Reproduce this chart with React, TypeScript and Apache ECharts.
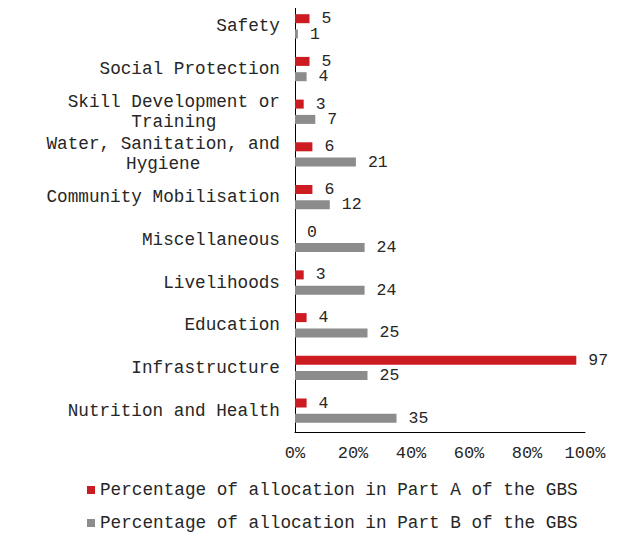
import React, { useEffect, useRef } from "react";
import * as echarts from "echarts";

const categories = [
  "Nutrition and Health",
  "Infrastructure",
  "Education",
  "Livelihoods",
  "Miscellaneous",
  "Community Mobilisation",
  "Water, Sanitation, and\nHygiene",
  "Skill Development or\nTraining",
  "Social Protection",
  "Safety",
];
const partA = [4, 97, 4, 3, 0, 6, 6, 3, 5, 5];
const partB = [35, 25, 25, 24, 24, 12, 21, 7, 4, 1];
const seriesNames = [
  "Percentage of allocation in Part A of the GBS",
  "Percentage of allocation in Part B of the GBS",
];
const xTicks = [0, 20, 40, 60, 80, 100];

const FONT = "'Liberation Mono', 'Courier New', monospace";
const FS = 17.7;
const CW = FS * 0.6;
const TXT = "#262626";

export default function App() {
  const ref = useRef<HTMLDivElement>(null);
  useEffect(() => {
    if (!ref.current) return;
    const chart = echarts.init(ref.current, undefined, { renderer: "svg" });
    const rich: Record<string, any> = {};
    categories.forEach((c) => {
      const n = Math.max(...c.split("\n").map((l) => l.length));
      rich["w" + n] = {
        width: n * CW,
        align: "center",
        fontFamily: FONT,
        fontSize: FS,
        color: TXT,
        lineHeight: 20,
      };
    });
    const valueLabel = {
      show: true,
      position: "right",
      distance: 12,
      fontFamily: FONT,
      fontSize: 16.5,
      lineHeight: 13,
      color: TXT,
    };
    chart.setOption({
      animation: false,
      grid: { left: 295, right: 40, top: 5, bottom: 112, containLabel: false },
      xAxis: {
        type: "value",
        min: 0,
        max: 100,
        interval: 20,
        axisLine: { show: true, lineStyle: { color: "#000", width: 1 } },
        axisTick: { show: false },
        splitLine: { show: false },
        axisLabel: {
          margin: 13,
          fontFamily: FONT,
          fontSize: 17,
          color: TXT,
          formatter: (v: number) => (xTicks.includes(v) ? v + "%" : ""),
        },
      },
      yAxis: {
        type: "category",
        data: categories,
        axisLine: { show: true, lineStyle: { color: "#000", width: 1 } },
        axisTick: { show: false },
        axisLabel: {
          margin: 15,
          fontFamily: FONT,
          fontSize: FS,
          color: TXT,
          lineHeight: 20,
          formatter: (v: string) => {
            const lines = v.split("\n");
            const n = Math.max(...lines.map((l) => l.length));
            return lines.map((l) => `{w${n}|${l}}`).join("\n");
          },
          rich,
        },
      },
      legend: {
        orient: "vertical",
        left: 87,
        top: 481,
        padding: 0,
        itemWidth: 8,
        itemHeight: 8,
        itemGap: 15,
        icon: "rect",
        textStyle: { fontFamily: FONT, fontSize: FS, color: TXT },
        data: seriesNames,
      },
      series: [
        {
          name: seriesNames[0],
          type: "bar",
          data: partA,
          barWidth: 9,
          barGap: "70%",
          itemStyle: { color: "#CD1B22" },
          label: valueLabel,
        },
        {
          name: seriesNames[1],
          type: "bar",
          data: partB,
          barWidth: 9,
          barGap: "70%",
          itemStyle: { color: "#8C8C8C" },
          label: valueLabel,
        },
      ],
    });
    return () => chart.dispose();
  }, []);
  return <div ref={ref} style={{ width: 625, height: 544, margin: -8 }} />;
}
